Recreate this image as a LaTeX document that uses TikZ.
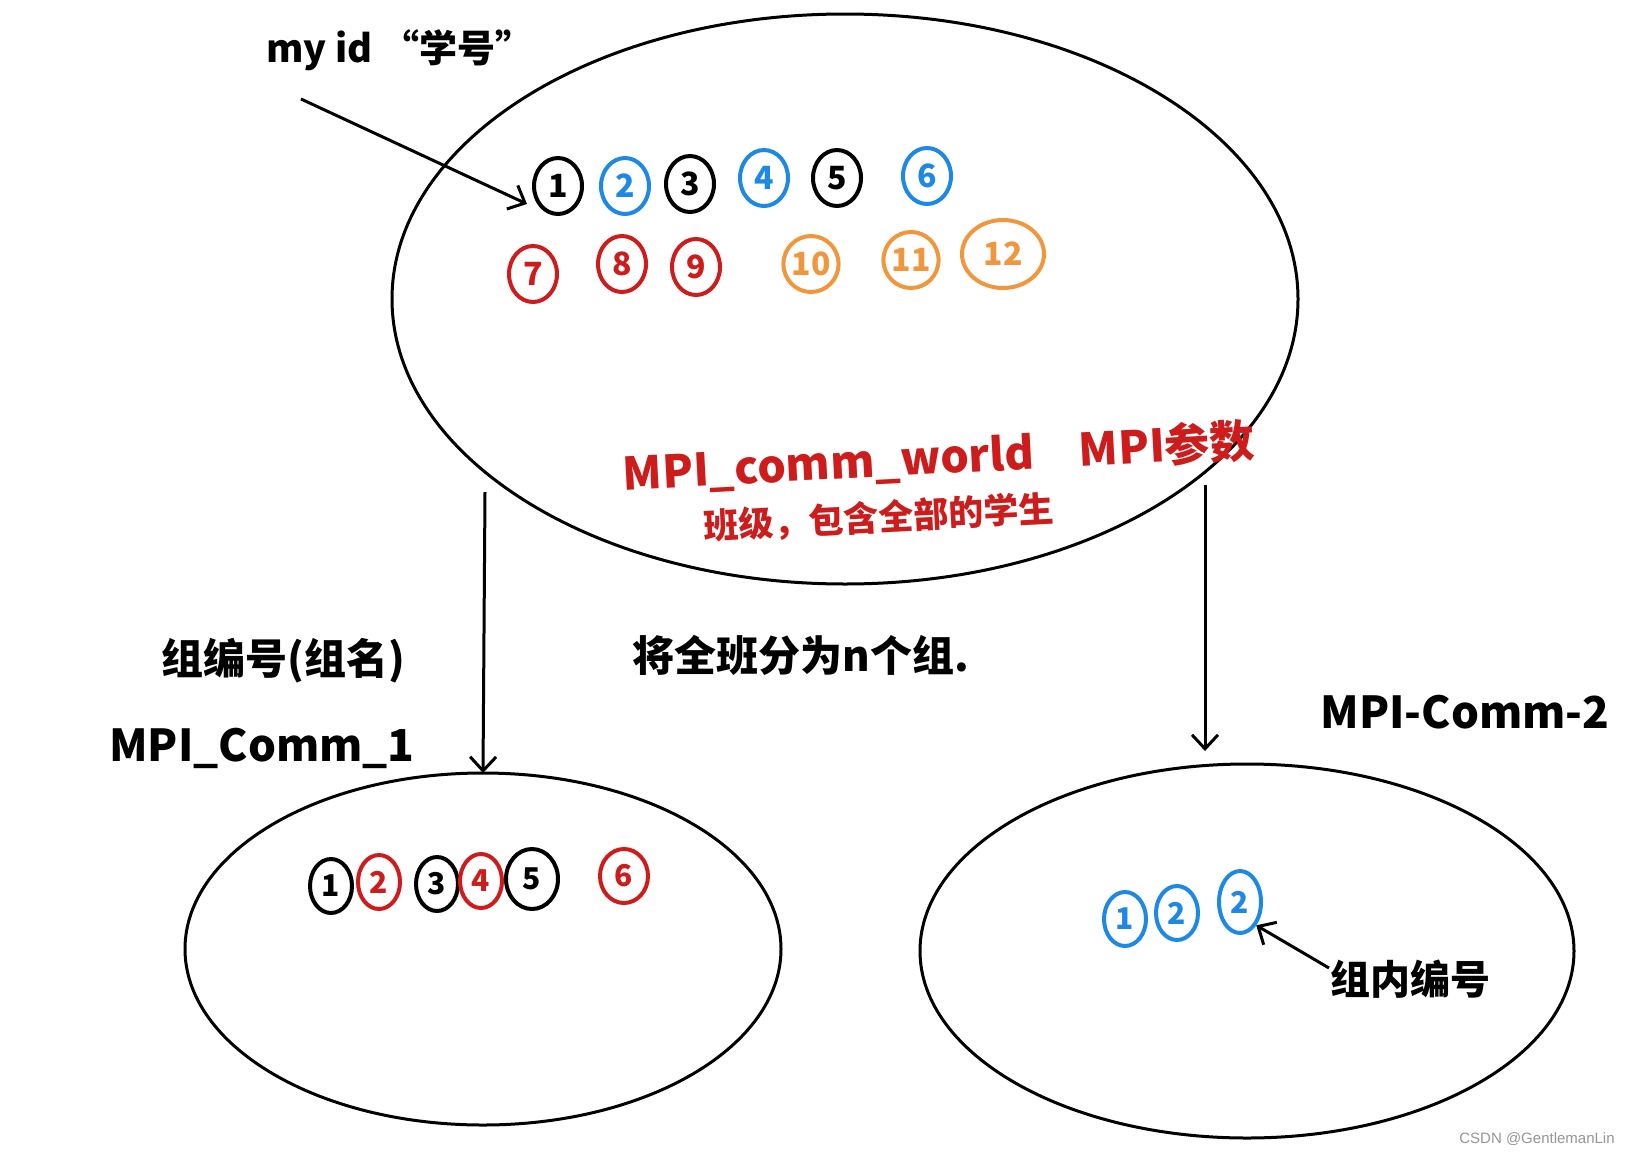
\documentclass[tikz,border=0pt]{standalone}
\usepackage{fontspec}
\newfontfamily\cjk{Noto Sans CJK SC}
\usetikzlibrary{shapes.geometric,arrows.meta}
\definecolor{hblue}{RGB}{30,136,229}
\definecolor{hred}{RGB}{204,28,28}
\definecolor{horange}{RGB}{240,150,60}
\definecolor{wgray}{RGB}{150,150,150}
\begin{document}
\begin{tikzpicture}[x=1pt,y=-1pt,
  big/.style={ellipse,draw,line width=3pt,inner sep=0pt,outer sep=0pt},
  cn/.style={ellipse,draw,line width=4pt,inner sep=0pt,minimum width=48pt,minimum height=56pt,font=\cjk\bfseries\fontsize{32}{32}\selectfont},
  cs/.style={ellipse,draw,line width=4pt,inner sep=0pt,minimum width=42pt,minimum height=54pt,font=\cjk\bfseries\fontsize{30}{30}\selectfont},
  arr/.style={line width=3pt,-{Straight Barb[length=14pt,width=26pt,line width=3pt]}},
  lbl/.style={inner sep=0pt,font=\cjk\bfseries\fontsize{40}{40}\selectfont}
]
\useasboundingbox (0,0) rectangle (1641,1154);
\fill[white] (0,0) rectangle (1641,1154);
% ellipses
\node[big,minimum width=906pt,minimum height=570pt] (world) at (845,299) {};
\node[big,minimum width=596pt,minimum height=352pt] (comm1) at (483,949) {};
\node[big,minimum width=654pt,minimum height=374pt] (comm2) at (1247,951) {};
% top row
\node[cn] (t1) at (558,186) {1};
\node[cn,hblue] (t2) at (625,186) {2};
\node[cn] (t3) at (690,184) {3};
\node[cn,hblue] (t4) at (764,178) {4};
\node[cn] (t5) at (837,178) {5};
\node[cn,hblue] (t6) at (927,176) {6};
\node[cn,hred] (t7) at (533,274) {7};
\node[cn,hred] (t8) at (622,264) {8};
\node[cn,hred] (t9) at (696,267) {9};
\node[cn,horange] (t10) at (811,264) {10};
\node[cn,horange] (t11) at (911,260) {11};
\node[cn,horange,minimum width=82pt,minimum height=68pt] (t12) at (1003,254) {12};
% comm1 members
\node[cs] (a1) at (331,886) {1};
\node[cs,hred] (a2) at (379,882) {2};
\node[cs] (a3) at (437,884) {3};
\node[cs,hred] (a4) at (481,881) {4};
\node[cs,minimum width=52pt,minimum height=60pt] (a5) at (532,879) {5};
\node[cs,hred,minimum width=48pt] (a6) at (624,876) {6};
% comm2 members
\node[cs,hblue] (b1) at (1125,919) {1};
\node[cs,hblue] (b2) at (1177,913) {2};
\node[cs,hblue,minimum height=62pt] (b3) at (1240,902) {2};
% labels
\node[lbl,font=\cjk\bfseries\fontsize{38}{38}\selectfont] (myid) at (400,50) {my id “学号”};
\node[lbl,hred,font=\cjk\bfseries\fontsize{45}{45}\selectfont,rotate=3] (mpiw) at (939,458) {MPI\_comm\_world\quad MPI参数};
\node[lbl,hred,font=\cjk\bfseries\fontsize{35}{35}\selectfont,rotate=3] (cls) at (879,518) {班级，包含全部的学生};
\node[lbl,font=\cjk\bfseries\fontsize{42}{42}\selectfont] (gname) at (283,661) {组编号(组名)};
\node[lbl,font=\cjk\bfseries\fontsize{44}{44}\selectfont] (c1lbl) at (262,748) {MPI\_Comm\_1};
\node[lbl,font=\cjk\bfseries\fontsize{42}{42}\selectfont] (split) at (801,655) {将全班分为n个组.};
\node[lbl,font=\cjk\bfseries\fontsize{44}{44}\selectfont] (c2lbl) at (1465,712) {MPI-Comm-2};
\node[lbl] (inner) at (1410,979) {组内编号};
\node[inner sep=0pt,text=wgray,font=\fontspec{Liberation Sans}\fontsize{15}{15}\selectfont] (wm) at (1537,1139) {CSDN @GentlemanLin};
% arrows
\coordinate (s1) at (301,99);
\coordinate (e1) at (527,204);
\draw[arr] (s1) -- (e1);
\coordinate (d1) at (485,492);
\draw[arr] (d1) -- (comm1.north);
\coordinate (d2) at (1205,485);
\coordinate (e2) at (1205,751);
\draw[arr] (d2) -- (e2);
\coordinate (s3) at (1329,968);
\draw[arr] (s3) -- (b3.south east);
\end{tikzpicture}
\end{document}
